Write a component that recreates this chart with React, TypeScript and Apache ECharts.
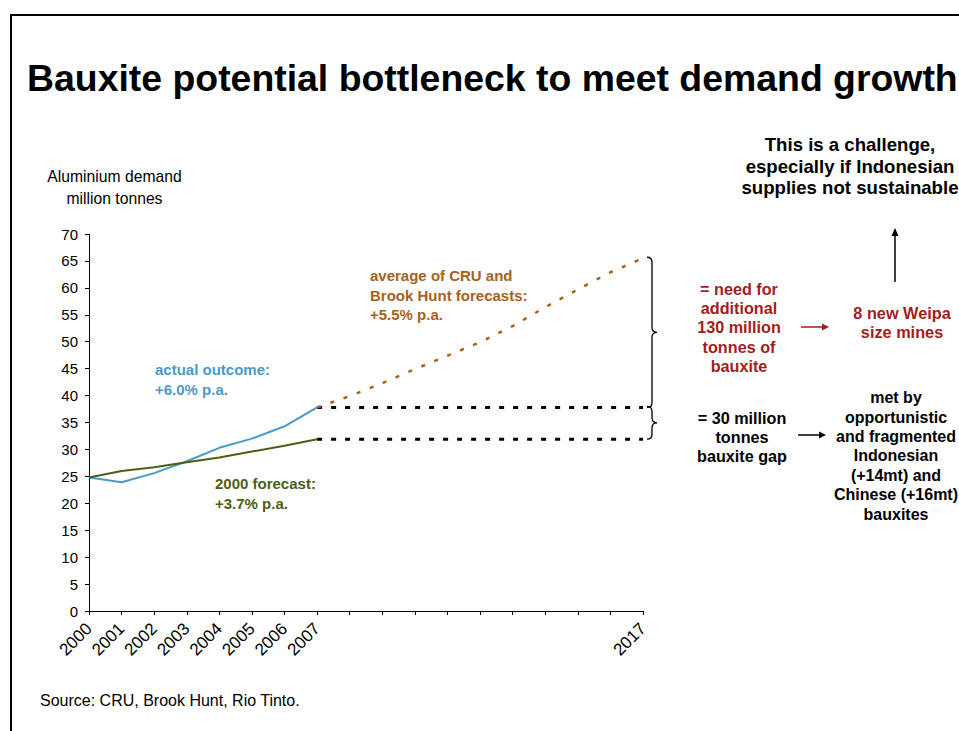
import React, { useEffect, useRef } from "react";
import * as echarts from "echarts";

const years = ["2000","2001","2002","2003","2004","2005","2006","2007","2008","2009","2010","2011","2012","2013","2014","2015","2016","2017"];
const labelledYears = ["2000","2001","2002","2003","2004","2005","2006","2007","2017"];
const actualOutcome = [24.8, 23.9, 25.6, 27.8, 30.3, 32.0, 34.3, 37.8, null, null, null, null, null, null, null, null, null, null];
const forecast2000 = [24.8, 26.0, 26.7, 27.6, 28.5, 29.6, 30.7, 31.9, null, null, null, null, null, null, null, null, null, null];
const avgForecast = [null, null, null, null, null, null, null, 37.8, 39.9, 42.3, 44.9, 47.4, 49.9, 52.9, 56.4, 59.7, 62.9, 65.5];
const gapUpper = 37.8;
const gapLower = 31.9;
const yTicks = { min: 0, max: 70, interval: 5 };

const FONT = '"Liberation Sans", Arial, sans-serif';
const BLUE = "#4A9ACC";
const GREEN = "#4D5F14";
const BROWN = "#A8621C";
const RED = "#A51C1C";

const flatFrom = (v: number, startIdx: number) => years.map((_, i) => (i >= startIdx ? v : null));

export default function App() {
  const ref = useRef<HTMLDivElement>(null);
  useEffect(() => {
    if (!ref.current) return;
    const chart = echarts.init(ref.current, null, { renderer: "svg" });
    const txt = (x: number, y: number, text: string, opts: any = {}) => ({
      type: "text",
      x,
      y,
      silent: true,
      style: {
        text,
        fontFamily: FONT,
        fontSize: opts.fontSize ?? 15,
        fontWeight: opts.fontWeight ?? "bold",
        fill: opts.fill ?? "#000",
        align: opts.align ?? "left",
        verticalAlign: "top",
        lineHeight: opts.lineHeight ?? 19.5,
      },
    });
    const arrowH = (x1: number, x2: number, y: number, color: string) => [
      { type: "line", shape: { x1, y1: y, x2: x2 - 6, y2: y }, style: { stroke: color, lineWidth: 1.5 } },
      { type: "polygon", shape: { points: [[x2 - 7, y - 3.5], [x2, y], [x2 - 7, y + 3.5]] }, style: { fill: color } },
    ];
    const startIdx = years.indexOf("2007");
    chart.setOption({
      animation: false,
      textStyle: { fontFamily: FONT },
      grid: { left: 89, right: 316, top: 234, bottom: 120, containLabel: false },
      xAxis: {
        type: "category",
        data: years,
        boundaryGap: false,
        axisLine: { lineStyle: { color: "#000", width: 1 } },
        axisTick: { show: true, interval: 0, length: 4, lineStyle: { color: "#000" } },
        axisLabel: {
          interval: 0,
          rotate: 45,
          color: "#000",
          fontSize: 17,
          margin: 15,
          fontFamily: FONT,
          formatter: (v: string) => (labelledYears.includes(v) ? v : ""),
        },
        splitLine: { show: false },
      },
      yAxis: {
        type: "value",
        min: yTicks.min,
        max: yTicks.max,
        interval: yTicks.interval,
        axisLine: { show: true, lineStyle: { color: "#000", width: 1 } },
        axisTick: { show: true, length: 4, lineStyle: { color: "#000" } },
        axisLabel: { color: "#000", fontSize: 15, margin: 11, fontFamily: FONT },
        splitLine: { show: false },
      },
      series: [
        {
          name: "gapUpper",
          type: "line",
          data: flatFrom(gapUpper, startIdx),
          symbol: "none",
          lineStyle: { color: "#000", width: 3, type: [5, 9] },
          z: 2,
        },
        {
          name: "gapLower",
          type: "line",
          data: flatFrom(gapLower, startIdx),
          symbol: "none",
          lineStyle: { color: "#000", width: 3, type: [5, 9] },
          z: 2,
        },
        {
          name: "average of CRU and Brook Hunt forecasts",
          type: "line",
          data: avgForecast,
          symbol: "none",
          lineStyle: { color: BROWN, width: 2.5, type: [4, 10] },
          z: 3,
        },
        {
          name: "actual outcome",
          type: "line",
          data: actualOutcome,
          symbol: "none",
          lineStyle: { color: BLUE, width: 2 },
          z: 4,
        },
        {
          name: "2000 forecast",
          type: "line",
          data: forecast2000,
          symbol: "none",
          lineStyle: { color: GREEN, width: 2 },
          z: 4,
        },
        {
          name: "braces",
          type: "custom",
          clip: false,
          encode: { x: 0, y: [1, 2] },
          data: [
            ["2017", gapUpper, avgForecast[avgForecast.length - 1]],
            ["2017", gapLower, gapUpper],
          ],
          renderItem: (params: any, api: any) => {
            const xv = api.value(0);
            const pTop = api.coord([xv, api.value(2)]);
            const pBot = api.coord([xv, api.value(1)]);
            const x0 = pTop[0] + 4;
            const xm = x0 + 5;
            const x1 = x0 + 10;
            const yT = pTop[1] - 1;
            const yB = pBot[1];
            const yM = (yT + yB) / 2;
            const r = 5;
            const d = `M${x0} ${yT} Q${xm} ${yT} ${xm} ${yT + r} L${xm} ${yM - r} Q${xm} ${yM} ${x1} ${yM} Q${xm} ${yM} ${xm} ${yM + r} L${xm} ${yB - r} Q${xm} ${yB} ${x0} ${yB}`;
            return {
              type: "path",
              shape: { pathData: d },
              style: { stroke: "#000", fill: "none", lineWidth: 1.3 },
            };
          },
          z: 5,
        },
      ],
      graphic: [
        { type: "rect", shape: { x: 11, y: 15, width: 1000, height: 800 }, style: { stroke: "#000", lineWidth: 2, fill: "none" }, silent: true },
        txt(27, 55, "Bauxite potential bottleneck to meet demand growth", { fontSize: 37.4, lineHeight: 45 }),
        txt(114.5, 165, "Aluminium demand\nmillion tonnes", { fontSize: 15.7, fontWeight: "normal", align: "center", lineHeight: 22 }),
        txt(155, 359, "actual outcome:\n+6.0% p.a.", { fill: BLUE, lineHeight: 20 }),
        txt(370, 266, "average of CRU and\nBrook Hunt forecasts:\n+5.5% p.a.", { fill: BROWN, lineHeight: 19.5 }),
        txt(215, 473, "2000 forecast:\n+3.7% p.a.", { fill: GREEN, lineHeight: 20 }),
        txt(739, 279, "= need for\nadditional\n130 million\ntonnes of\nbauxite", { fontSize: 16.2, fill: RED, align: "center", lineHeight: 19.3 }),
        txt(902, 303, "8 new Weipa\nsize mines", { fontSize: 16.3, fill: RED, align: "center", lineHeight: 19.5 }),
        txt(850, 134, "This is a challenge,\nespecially if Indonesian\nsupplies not sustainable", { fontSize: 18.6, align: "center", lineHeight: 21.5 }),
        txt(742, 408, "= 30 million\ntonnes\nbauxite gap", { fontSize: 16.2, align: "center", lineHeight: 19.3 }),
        txt(896, 388, "met by\nopportunistic\nand fragmented\nIndonesian\n(+14mt) and\nChinese (+16mt)\nbauxites", { fontSize: 16, align: "center", lineHeight: 19.4 }),
        txt(40, 691, "Source: CRU, Brook Hunt, Rio Tinto.", { fontSize: 16, fontWeight: "normal" }),
        ...arrowH(801, 829, 327, RED),
        ...arrowH(798, 826, 435, "#000"),
        { type: "line", shape: { x1: 895, y1: 282, x2: 895, y2: 234 }, style: { stroke: "#000", lineWidth: 1.5 } },
        { type: "polygon", shape: { points: [[891.5, 236], [895, 228], [898.5, 236]] }, style: { fill: "#000" } },
      ],
    });
    return () => chart.dispose();
  }, []);
  return <div ref={ref} style={{ position: "fixed", left: 0, top: 0, width: 959, height: 731, background: "#fff" }} />;
}
